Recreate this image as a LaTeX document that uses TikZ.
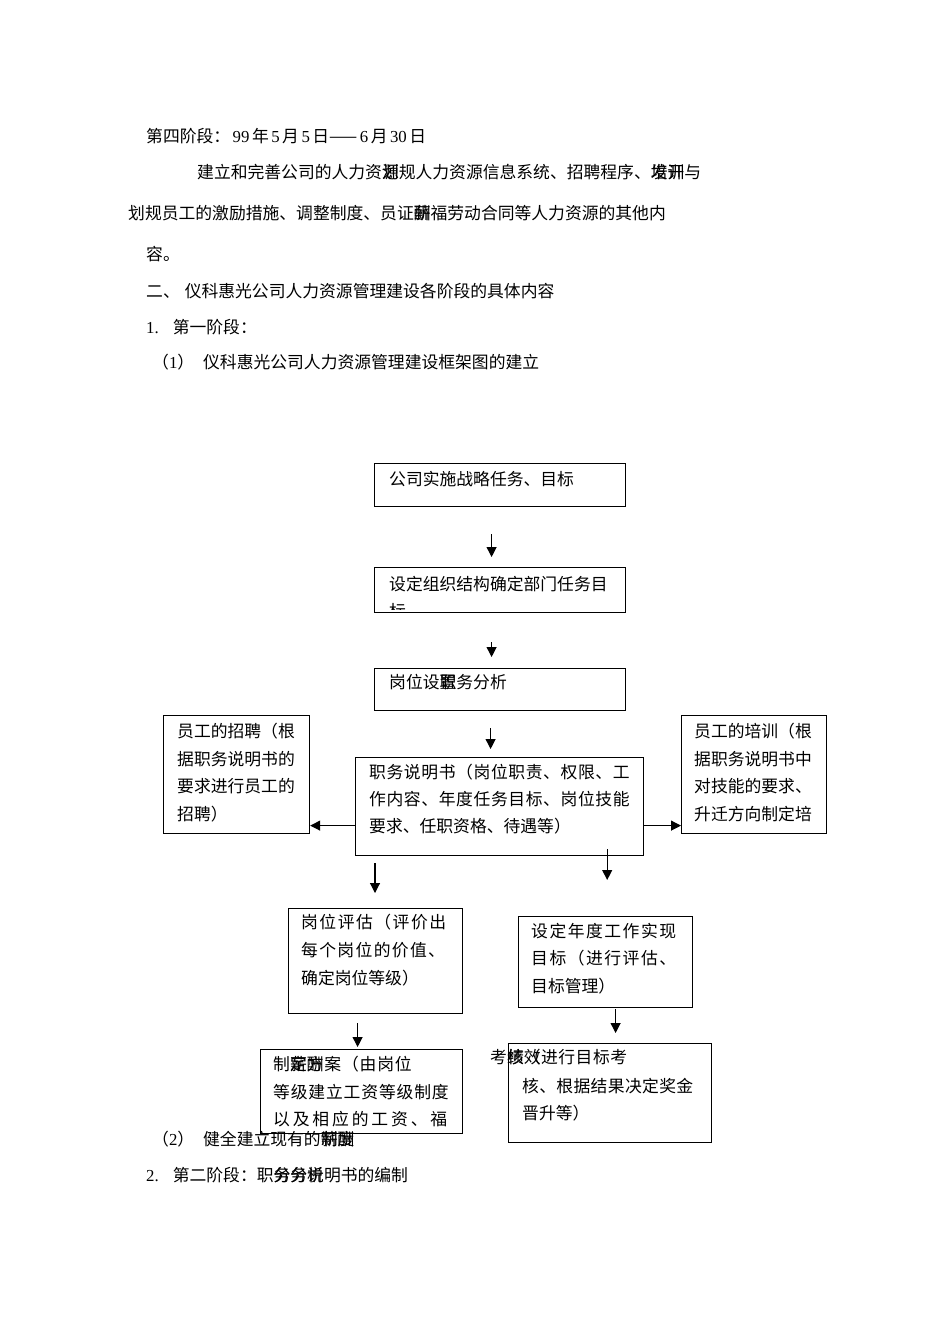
\documentclass[tikz,border=0pt]{standalone}
\usepackage{fontspec}
\setmainfont{Liberation Serif}
\newfontfamily\cjk{Noto Sans CJK SC}
\usepackage{tikz}
\usetikzlibrary{arrows.meta, positioning}

\newcommand{\dig}[1]{{\rmfamily\hspace{2.5pt}#1\hspace{2.5pt}}}
\newcommand{\dbl}[2]{\rlap{#1}#2}
\newcommand{\wide}[2]{{\addfontfeature{LetterSpace=#1}#2}}

\tikzset{
    box/.style={draw, line width=1.2pt, anchor=north west, inner sep=0pt},
    txt/.style={anchor=north west, inner sep=0pt, align=left, font=\cjk\fontsize{16.8}{27.5}\selectfont},
    arr/.style={line width=1.1pt, -{Triangle[length=10pt,width=10pt]}},
}

\begin{document}
\begin{tikzpicture}[x=1pt, y=-1pt]
    \useasboundingbox (0,0) rectangle (950,1344);

    % Text above the chart
    \node[txt] (stage4) at (146,128) {第四阶段：\dig{99}年\dig{5}月\dig{5}日——\dig{6}月\dig{30}日};
    \node[txt] (para1) at (197,164) {建立和完善公司的人力资\dbl{源}{划}规人力资源信息系统、招聘程序、\dbl{培}{发}\dbl{训}{开}与};
    \node[txt] (para2) at (128,205) {划规员工的激励措施、调整制度、员证\dbl{薪}{酬}福劳动合同等人力资源的其他内};
    \node[txt] (para3) at (146,246) {容。};
    \node[txt] (sec2) at (146,283) {二、\hspace{5pt}仪科惠光公司人力资源管理建设各阶段的具体内容};
    \node[txt] (step1) at (146,319) {{\rmfamily 1.}\hspace{14pt}第一阶段：};
    \node[txt] (sub1) at (152,354) {（{\rmfamily 1}）\hspace{9pt}仪科惠光公司人力资源管理建设框架图的建立};

    % Boxes
    \node[box, minimum width=251pt, minimum height=43pt] (strat) at (374,463) {};
    \node[box, minimum width=251pt, minimum height=45pt] (org) at (374,567) {};
    \node[box, minimum width=251pt, minimum height=42pt] (post) at (374,668) {};
    \node[box, minimum width=288pt, minimum height=98pt] (desc) at (355,757) {};
    \node[box, minimum width=146pt, minimum height=118pt] (recr) at (163,715) {};
    \node[box, minimum width=145pt, minimum height=118pt] (train) at (681,715) {};
    \node[box, minimum width=174pt, minimum height=105pt] (eval) at (288,908) {};
    \node[box, minimum width=174pt, minimum height=91pt] (goal) at (518,916) {};
    \node[box, minimum width=202pt, minimum height=84pt] (pay) at (260,1049) {};
    \node[box, minimum width=203pt, minimum height=99pt] (appr) at (508,1043) {};

    % Box texts
    \node[txt] (stratT) at (389,471) {公司实施战略任务、目标};
    \begin{scope}
        \clip (org.north west) rectangle ([yshift=4pt]org.south east);
        \node[txt] (orgT) at (389,576) {设定组织结构确定部门任务目\\标};
    \end{scope}
    \node[txt] (postT) at (389,674) {岗位设\dbl{置}{职}务分析};
    \node[txt, font=\cjk\fontsize{16.8}{27}\selectfont] (descT) at (369,764)
        {\wide{3.6}{职务说明书（岗位职责、权限、工}\\\wide{3.6}{作内容、年度任务目标、岗位技能}\\要求、任职资格、待遇等）};
    \node[txt] (recrT) at (177,723) {员工的招聘（根\\据职务说明书的\\要求进行员工的\\招聘）};
    \node[txt] (trainT) at (694,723) {员工的培训（根\\据职务说明书中\\对技能的要求、\\升迁方向制定培};
    \node[txt, font=\cjk\fontsize{16.8}{28}\selectfont] (evalT) at (301,914)
        {\wide{9}{岗位评估（评价出}\\\wide{8}{每个岗位的价值、}\\确定岗位等级）};
    \node[txt] (goalT) at (531,923) {\wide{9}{设定年度工作实现}\\\wide{9}{目标（进行评估、}\\目标管理）};
    \node[txt] (payT) at (273,1056)
        {\wide{5}{制\dbl{定}{薪}\dbl{酬}{方}案（由岗位}\\\wide{5}{等级建立工资等级制度}\\\wide{17}{以及相应的工资、福}};
    \node[txt] (apprT) at (490,1049) {\wide{3}{考\dbl{核}{绩}\dbl{效}{（}进行目标考}};
    \node[txt, font=\cjk\fontsize{16.8}{27}\selectfont] (apprT2) at (522,1078) {\wide{2}{核、根据结果决定奖金}\\晋升等）};

    % Arrows
    \draw[arr] ([xshift=-8.5pt,yshift=-27pt]strat.south) -- ([xshift=-8.5pt,yshift=10pt]org.north);
    \draw[arr] ([xshift=-8.5pt,yshift=-29pt]org.south) -- ([xshift=-8.5pt,yshift=11pt]post.north);
    \draw[arr] ([xshift=-9.5pt,yshift=-17pt]post.south) -- ([xshift=-9pt,yshift=8pt]desc.north);
    \draw[arr] ([yshift=-19pt]desc.west) -- ([yshift=-19pt]desc.west -| recr.east);
    \draw[arr] ([yshift=-19pt]desc.east) -- ([yshift=-19pt]desc.east -| train.west);
    \draw[arr] ([xshift=20pt,yshift=-7pt]desc.south west) -- ([xshift=20pt,yshift=15pt]desc.south west |- eval.north);
    \draw[arr] ([xshift=-37pt,yshift=7pt]desc.south east) -- ([xshift=-37pt,yshift=36pt]desc.south east |- goal.north);
    \draw[arr] ([xshift=-18pt,yshift=-9pt]eval.south) -- ([xshift=-4pt,yshift=2pt]pay.north);
    \draw[arr] ([xshift=10pt,yshift=-1pt]goal.south) -- ([xshift=5.5pt,yshift=10pt]appr.north);

    % Text below the chart
    \node[txt] (sub2) at (152,1131) {（{\rmfamily 2}）\hspace{9pt}健全建立现有的\dbl{薪}{制}\dbl{酬}{度}};
    \node[txt] (step2) at (146,1167) {{\rmfamily 2.}\hspace{14pt}第二阶段：职\dbl{务}{分}\dbl{分}{务}\dbl{析}{说}明书的编制};
\end{tikzpicture}
\end{document}
